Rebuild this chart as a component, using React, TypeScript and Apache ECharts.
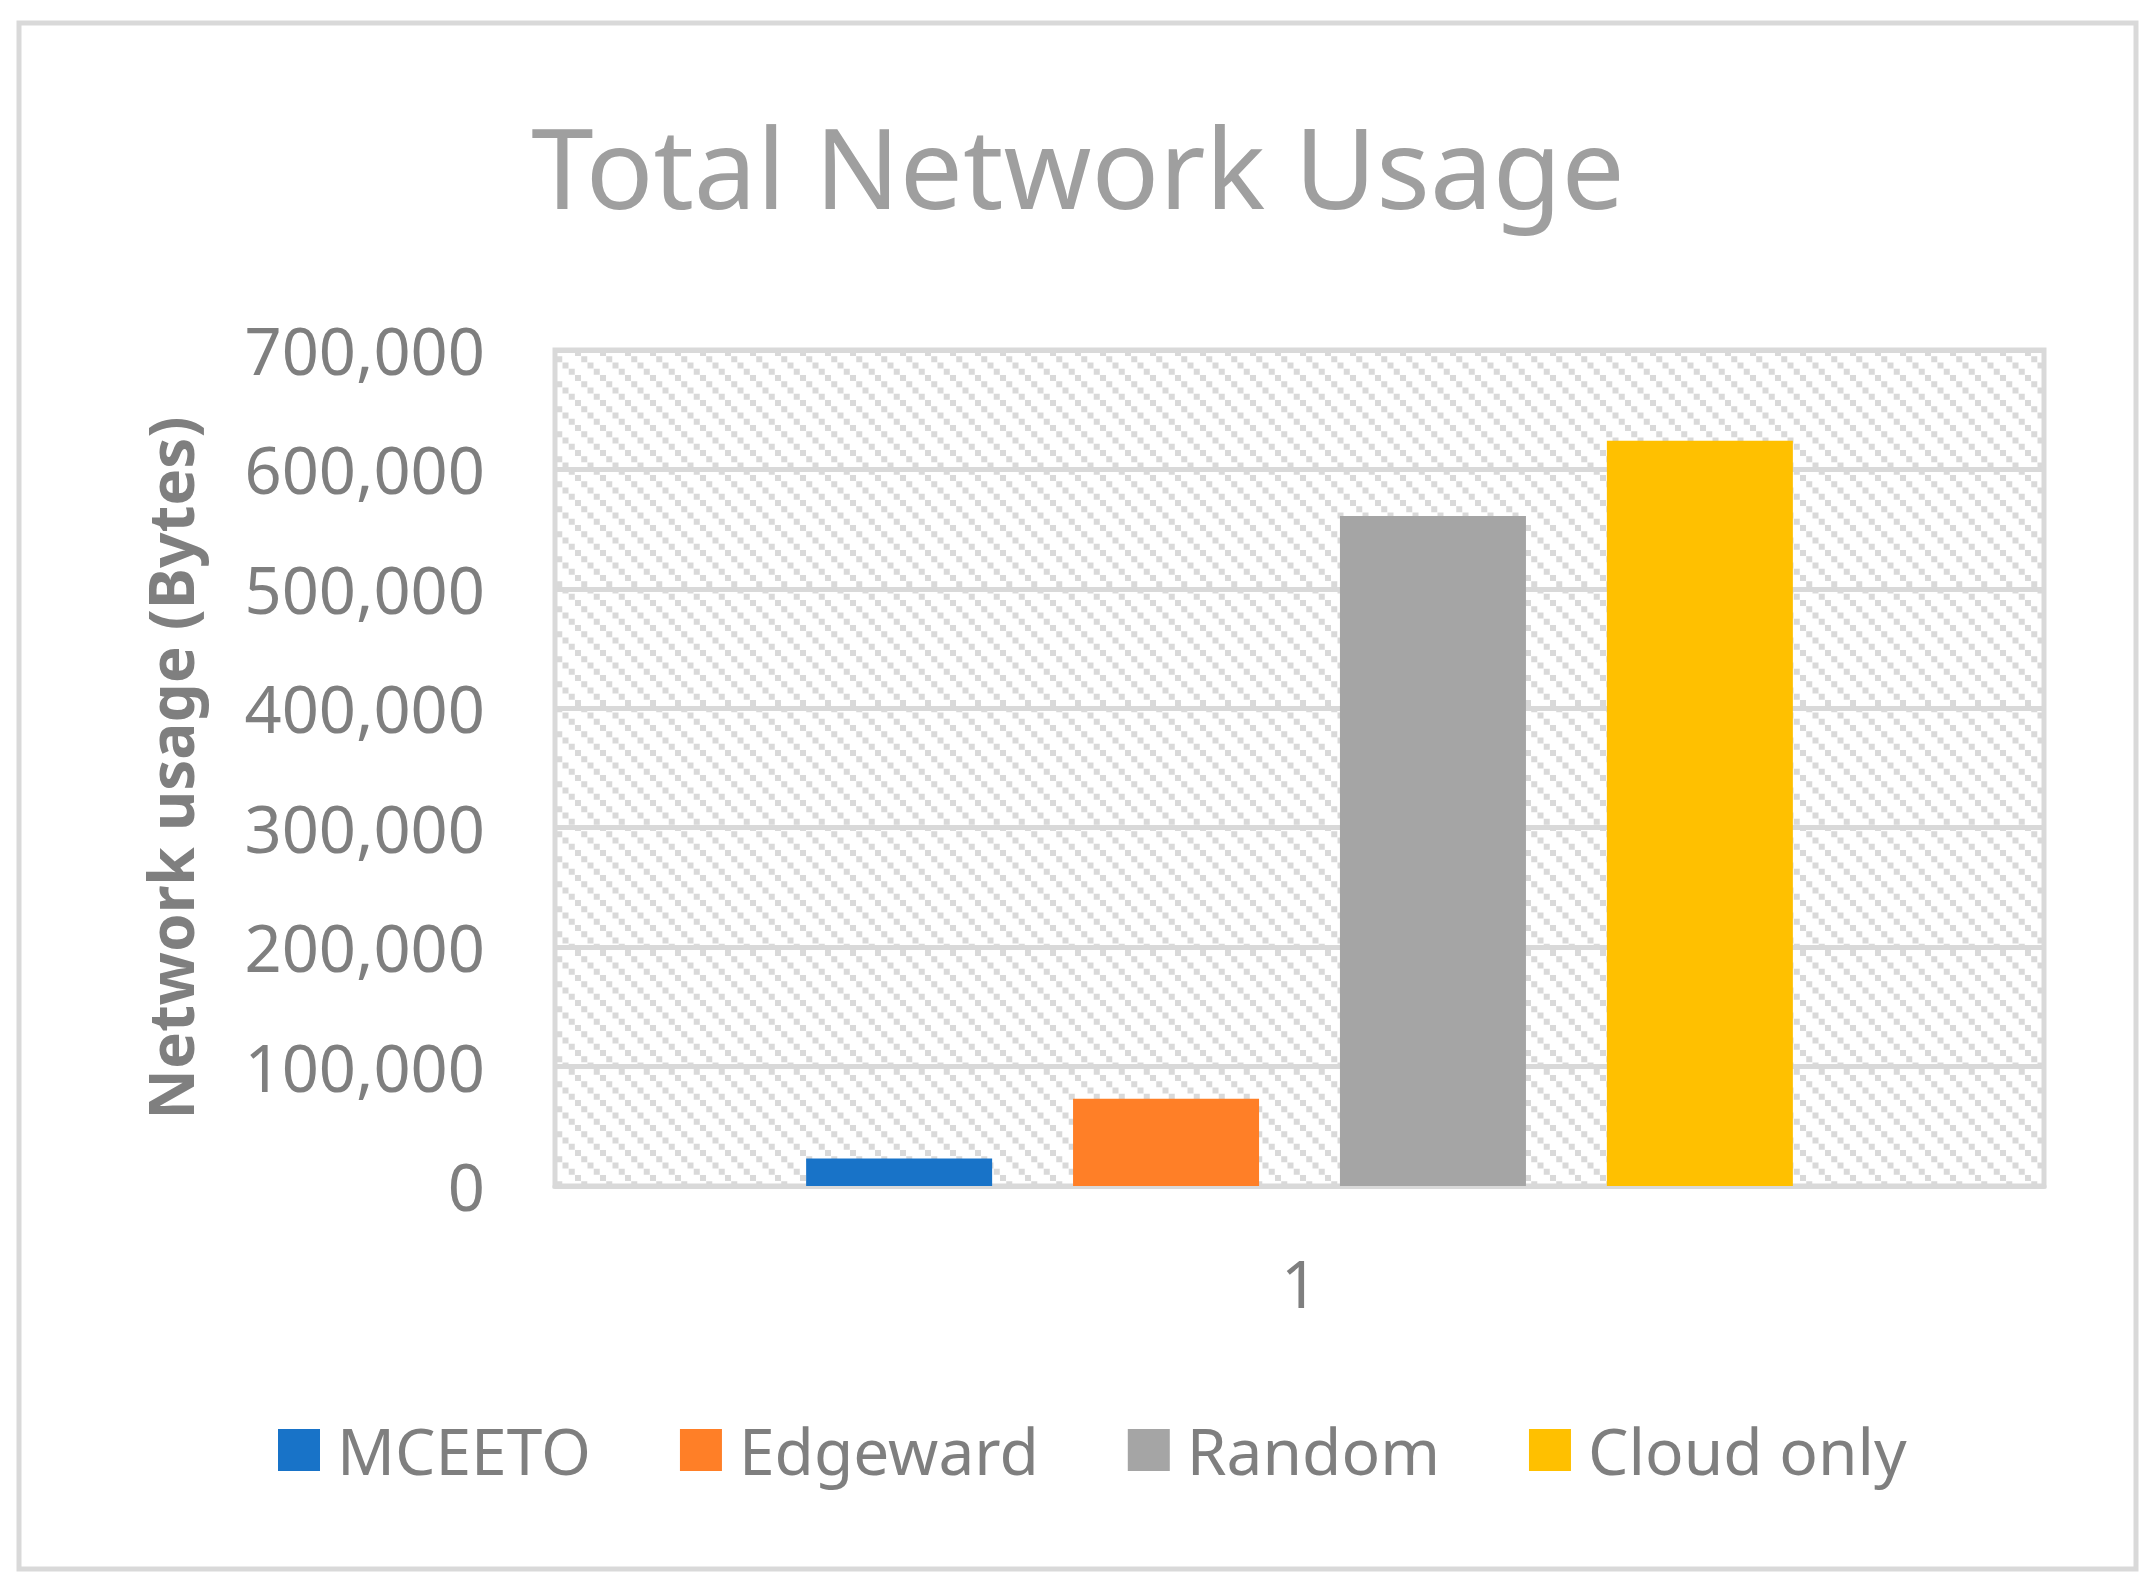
import React, { useEffect, useRef } from "react";
import * as echarts from "echarts";

const categories = ["1"];
const seriesNames = ["MCEETO", "Edgeward", "Random", "Cloud only"];
const mceetoValues = [23000];
const edgewardValues = [73000];
const randomValues = [561000];
const cloudOnlyValues = [624000];
const seriesColors = ["#1873C8", "#FF7F27", "#A5A5A5", "#FFC000"];
const yMin = 0;
const yMax = 700000;
const yInterval = 100000;

const FONT = "'Noto Sans', 'Open Sans', sans-serif";

function hatchPattern() {
  const t = 25;
  const s = 6;
  const step = t / 4;
  let rects = "";
  for (let i = 0; i < 4; i++) {
    rects += `<rect x='${i * step}' y='${i * step}' width='${s}' height='${s}'/>`;
  }
  const svg = `<svg xmlns='http://www.w3.org/2000/svg' width='${t}' height='${t}'><rect width='${t}' height='${t}' fill='#ffffff'/><g fill='#d9d9d9'>${rects}</g></svg>`;
  return {
    image: "data:image/svg+xml;charset=utf-8," + encodeURIComponent(svg),
    repeat: "repeat",
    imageWidth: t,
    imageHeight: t,
  };
}

export default function App() {
  const ref = useRef<HTMLDivElement>(null);
  useEffect(() => {
    if (!ref.current) return;
    const chart = echarts.init(ref.current, null, { renderer: "svg" });
    const valueSets = [mceetoValues, edgewardValues, randomValues, cloudOnlyValues];
    chart.setOption({
      animation: false,
      backgroundColor: "#ffffff",
      title: {
        text: "Total Network Usage",
        left: "center",
        top: 104,
        textStyle: { fontFamily: FONT, fontSize: 112, fontWeight: "normal", color: "#9F9F9F" },
      },
      legend: {
        data: seriesNames,
        left: 273,
        top: 1413,
        itemWidth: 42,
        itemHeight: 42,
        itemGap: 89,
        icon: "rect",
        textStyle: { fontFamily: FONT, fontSize: 64, color: "#7F7F7F", padding: [0, 0, 0, 12] },
      },
      grid: {
        show: true,
        left: 555,
        top: 350,
        right: 112,
        bottom: 406,
        backgroundColor: hatchPattern(),
        borderColor: "#D9D9D9",
        borderWidth: 5,
      },
      xAxis: {
        type: "category",
        data: categories,
        axisLine: { show: true, lineStyle: { color: "#D9D9D9", width: 5 } },
        axisTick: { show: false },
        axisLabel: { fontFamily: FONT, fontSize: 65, color: "#7F7F7F", margin: 64 },
      },
      yAxis: {
        type: "value",
        min: yMin,
        max: yMax,
        interval: yInterval,
        name: "Network usage (Bytes)",
        nameLocation: "middle",
        nameGap: 354,
        nameTextStyle: { fontFamily: FONT, fontSize: 62, fontWeight: "bold", color: "#7F7F7F" },
        axisLine: { show: false },
        axisTick: { show: false },
        axisLabel: {
          fontFamily: FONT,
          fontSize: 65,
          color: "#7F7F7F",
          margin: 70,
          formatter: (v: number) => v.toLocaleString("en-US"),
        },
        splitLine: { show: true, lineStyle: { color: "#D9D9D9", width: 5 } },
      },
      series: seriesNames.map((name, i) => ({
        name,
        type: "bar",
        data: valueSets[i],
        barWidth: 186,
        barGap: "43.5%",
        itemStyle: { color: seriesColors[i] },
      })),
      graphic: [
        {
          type: "rect",
          shape: { x: 19, y: 23, width: 2117, height: 1546 },
          style: { fill: "none", stroke: "#D9D9D9", lineWidth: 5 },
          silent: true,
        },
      ],
    });
    return () => chart.dispose();
  }, []);
  return (
    <div
      ref={ref}
      style={{ position: "fixed", left: 0, top: 0, width: 2156, height: 1592 }}
    />
  );
}
